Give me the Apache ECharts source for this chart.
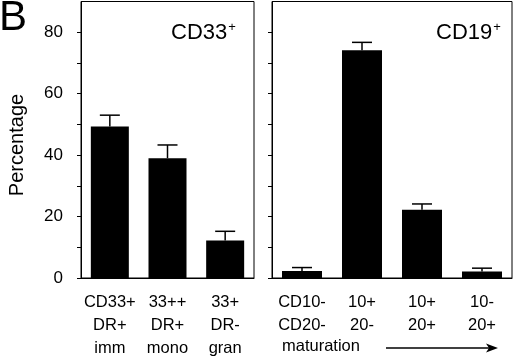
<!DOCTYPE html>
<html>
<head>
<meta charset="utf-8">
<script src="https://cdn.jsdelivr.net/npm/echarts@6/dist/echarts.min.js"></script>
<style>
  html, body { margin: 0; padding: 0; background: #fff; }
  #chart { width: 520px; height: 361px; }
</style>
</head>
<body>
<div id="chart"></div>
<script>
// 数据
const cd33Cats = ['CD33+\nDR+\nimm', '33++\nDR+\nmono', '33+\nDR-\ngran']
const cd33Values = [49.3, 39, 12.2]
const cd33Errors = [3.7, 4.3, 3]
const cd19Cats = ['CD10-\nCD20-', '10+\n20-', '10+\n20+', '10-\n20+']
const cd19Values = [2.3, 74.1, 22.2, 2.1]
const cd19Errors = [1.1, 2.6, 1.9, 1.1]
const yTicks = [0, 10, 20, 30, 40, 50, 60, 70, 80]
const yLabels = [0, 20, 40, 60, 80]

const font = 'Liberation Sans, Arial, Helvetica, sans-serif'

// 误差线
function errorSeries(idx, values, errors) {
  return {
    type: 'custom',
    xAxisIndex: idx,
    yAxisIndex: idx,
    z: 3,
    data: values.map((v, i) => [i, v, v + errors[i]]),
    renderItem(params, api) {
      const base = api.coord([api.value(0), api.value(1)])
      const top = api.coord([api.value(0), api.value(2)])
      const half = 10
      const style = { stroke: '#000', lineWidth: 1.5 }
      return {
        type: 'group',
        children: [
          { type: 'line', shape: { x1: base[0], y1: base[1], x2: top[0], y2: top[1] }, style },
          { type: 'line', shape: { x1: top[0] - half, y1: top[1], x2: top[0] + half, y2: top[1] }, style }
        ]
      }
    }
  }
}

function yAxis(idx, showLabels) {
  return {
    type: 'value',
    gridIndex: idx,
    min: 0,
    max: 90,
    interval: 10,
    axisLine: { show: true, lineStyle: { color: '#000', width: 1 } },
    axisTick: { show: true, length: 4, customValues: yTicks, lineStyle: { color: '#000' } },
    axisLabel: {
      show: showLabels,
      customValues: yLabels,
      margin: 18,
      color: '#000',
      fontSize: 17,
      fontFamily: font
    },
    splitLine: { show: false }
  }
}

function xAxis(idx, cats) {
  return {
    type: 'category',
    gridIndex: idx,
    data: cats,
    axisLine: { show: true, lineStyle: { color: '#000', width: 1 } },
    axisTick: { show: false },
    axisLabel: {
      interval: 0,
      margin: 13,
      color: '#000',
      fontSize: 16.5,
      lineHeight: 23,
      fontFamily: font
    }
  }
}

const option = {
  animation: false,
  backgroundColor: '#fff',
  grid: [
    { left: 81, right: 266, top: 1.5, bottom: 83, show: true, borderColor: '#000', borderWidth: 1 },
    { left: 272, right: 8, top: 1.5, bottom: 83, show: true, borderColor: '#000', borderWidth: 1 }
  ],
  xAxis: [xAxis(0, cd33Cats), xAxis(1, cd19Cats)],
  yAxis: [yAxis(0, true), yAxis(1, false)],
  series: [
    {
      type: 'bar',
      xAxisIndex: 0,
      yAxisIndex: 0,
      data: cd33Values,
      barWidth: 38,
      itemStyle: { color: '#000' }
    },
    {
      type: 'bar',
      xAxisIndex: 1,
      yAxisIndex: 1,
      data: cd19Values,
      barWidth: 40,
      itemStyle: { color: '#000' }
    },
    errorSeries(0, cd33Values, cd33Errors),
    errorSeries(1, cd19Values, cd19Errors)
  ],
  graphic: [
    {
      type: 'text',
      x: -1,
      y: -3,
      style: { text: 'B', fontSize: 42, fontFamily: font, fill: '#000' }
    },
    {
      type: 'text',
      x: 17,
      y: 145,
      rotation: Math.PI / 2,
      style: {
        text: 'Percentage',
        fontSize: 20,
        fontFamily: font,
        fill: '#000',
        align: 'center',
        verticalAlign: 'middle'
      }
    },
    {
      type: 'text',
      x: 171,
      y: 21,
      style: {
        text: '{m|CD33}{s|+}',
        fontFamily: font,
        fill: '#000',
        rich: {
          m: { fontSize: 22, fontFamily: font, fill: '#000' },
          s: { fontSize: 13, fontFamily: font, fill: '#000', padding: [0, 0, 11, 1] }
        }
      }
    },
    {
      type: 'text',
      x: 436,
      y: 21,
      style: {
        text: '{m|CD19}{s|+}',
        fontFamily: font,
        fill: '#000',
        rich: {
          m: { fontSize: 22, fontFamily: font, fill: '#000' },
          s: { fontSize: 13, fontFamily: font, fill: '#000', padding: [0, 0, 11, 1] }
        }
      }
    },
    {
      type: 'text',
      x: 282,
      y: 346,
      style: {
        text: 'maturation',
        fontSize: 16.5,
        fontFamily: font,
        fill: '#000',
        verticalAlign: 'middle'
      }
    },
    {
      type: 'line',
      shape: { x1: 386, y1: 348, x2: 490, y2: 348 },
      style: { stroke: '#000', lineWidth: 1.3 }
    },
    {
      type: 'polygon',
      shape: { points: [[498, 348], [486, 343.5], [489, 348], [486, 352.5]] },
      style: { fill: '#000' }
    }
  ]
}

const myChart = echarts.init(document.getElementById('chart'))
myChart.setOption(option)
</script>
</body>
</html>
